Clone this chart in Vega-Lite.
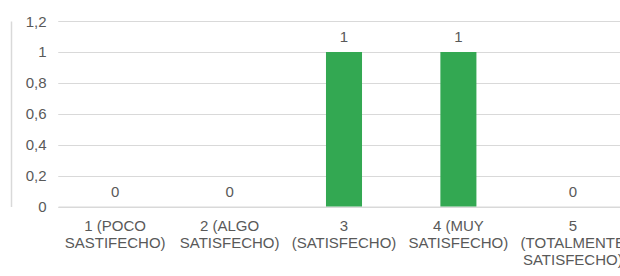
{
  "$schema": "https://vega.github.io/schema/vega-lite/v6.json",
  "autosize": {"type": "none"},
  "padding": {"left": 58, "top": 21, "right": 0, "bottom": 69.5},
  "width": 572,
  "height": 185.5,
  "background": "#ffffff",
  "data": {
    "values": [
      {"cat": "1 (POCO|SASTIFECHO)", "value": 0},
      {"cat": "2 (ALGO|SATISFECHO)", "value": 0},
      {"cat": "3|(SATISFECHO)", "value": 1},
      {"cat": "4 (MUY|SATISFECHO)", "value": 1},
      {"cat": "5|(TOTALMENTE|SATISFECHO)", "value": 0}
    ]
  },
  "encoding": {
    "x": {
      "field": "cat",
      "type": "nominal",
      "sort": null,
      "scale": {"paddingInner": 0.685, "paddingOuter": 0.3425},
      "axis": {
        "title": null,
        "labelAngle": 0,
        "labelExpr": "split(datum.label, '|')",
        "labelFont": "Liberation Sans",
        "labelFontSize": 15,
        "labelColor": "#595959",
        "labelLineHeight": 17,
        "labelPadding": 12,
        "labelBaseline": "top",
        "ticks": false,
        "domain": true,
        "domainColor": "#d9d9d9",
        "labelLimit": 0,
        "labelOverlap": false,
        "labelBound": false
      }
    },
    "y": {
      "field": "value",
      "type": "quantitative",
      "scale": {"domain": [0, 1.2], "nice": false},
      "axis": {
        "title": null,
        "values": [0, 0.2, 0.4, 0.6, 0.8, 1, 1.2],
        "labelExpr": "replace(format(datum.value, '.1~f'), '.', ',')",
        "labelFont": "Liberation Sans",
        "labelFontSize": 15,
        "labelColor": "#595959",
        "labelPadding": 12,
        "ticks": false,
        "domain": false,
        "grid": true,
        "gridColor": "#d9d9d9",
        "gridWidth": 1
      }
    }
  },
  "layer": [
    {"mark": {"type": "bar", "color": "#33a852"}},
    {
      "mark": {
        "type": "text",
        "font": "Liberation Sans",
        "fontSize": 15,
        "color": "#595959",
        "baseline": "alphabetic",
        "dy": -10
      },
      "encoding": {"text": {"field": "value", "type": "quantitative"}}
    },
    {
      "mark": {"type": "tick", "opacity": 0},
      "encoding": {
        "y": {
          "field": "value",
          "type": "quantitative",
          "scale": {"domain": [0, 1.2], "nice": false},
          "axis": {
            "orient": "left",
            "offset": 47,
            "title": null,
            "labels": false,
            "ticks": false,
            "grid": false,
            "domain": true,
            "domainColor": "#d9d9d9",
            "domainWidth": 1.5
          }
        }
      }
    }
  ],
  "resolve": {"axis": {"y": "independent"}},
  "config": {"view": {"stroke": null}}
}
